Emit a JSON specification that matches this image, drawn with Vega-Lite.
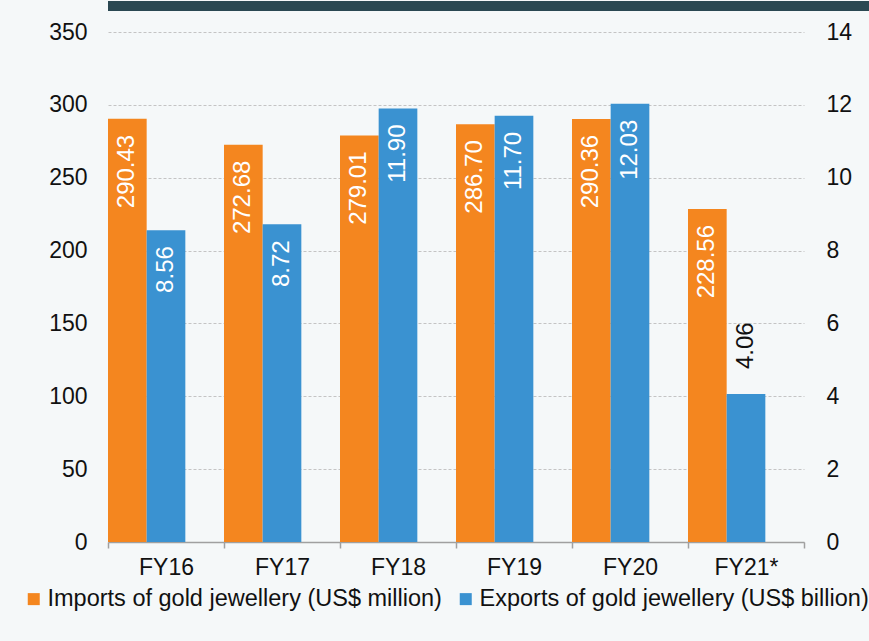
{
  "$schema": "https://vega.github.io/schema/vega-lite/v6.json",
  "padding": {"left": 0, "top": 0, "right": 0, "bottom": 30},
  "background": "#f5f8f9",
  "align": "none",
  "config": {
    "font": "Liberation Sans",
    "view": {"stroke": null},
    "concat": {"spacing": 10},
    "axis": {"labelFont": "Liberation Sans", "labelFontSize": 23, "labelColor": "#111111", "title": null}
  },
  "datasets": {
    "fy": [
      {"year": "FY16", "series": "Imports of gold jewellery (US$ million)", "value": 290.43},
      {"year": "FY17", "series": "Imports of gold jewellery (US$ million)", "value": 272.68},
      {"year": "FY18", "series": "Imports of gold jewellery (US$ million)", "value": 279.01},
      {"year": "FY19", "series": "Imports of gold jewellery (US$ million)", "value": 286.70},
      {"year": "FY20", "series": "Imports of gold jewellery (US$ million)", "value": 290.36},
      {"year": "FY21*", "series": "Imports of gold jewellery (US$ million)", "value": 228.56},
      {"year": "FY16", "series": "Exports of gold jewellery (US$ billion)", "value": 8.56},
      {"year": "FY17", "series": "Exports of gold jewellery (US$ billion)", "value": 8.72},
      {"year": "FY18", "series": "Exports of gold jewellery (US$ billion)", "value": 11.90},
      {"year": "FY19", "series": "Exports of gold jewellery (US$ billion)", "value": 11.70},
      {"year": "FY20", "series": "Exports of gold jewellery (US$ billion)", "value": 12.03},
      {"year": "FY21*", "series": "Exports of gold jewellery (US$ billion)", "value": 4.06}
    ]
  },
  "vconcat": [
    {
      "width": 869,
      "height": 10,
      "view": {"fill": "#2a4852", "stroke": null},
      "data": {"values": [{}]},
      "mark": {"type": "text", "text": ""},
      "encoding": {}
    },
    {
      "width": 696,
      "height": 510,
      "data": {"name": "fy"},
      "encoding": {
        "x": {
          "field": "year", "type": "nominal", "sort": null,
          "scale": {"paddingInner": 0, "paddingOuter": 0},
          "axis": {"labelAngle": 0, "labelPadding": 8, "domainColor": "#a0a0a0", "tickColor": "#a0a0a0", "tickSize": 6, "tickBand": "extent", "grid": false, "domainWidth": 1.5, "tickWidth": 1.5}
        },
        "xOffset": {
          "field": "series",
          "scale": {"domain": ["Imports of gold jewellery (US$ million)", "Exports of gold jewellery (US$ billion)", "gap"], "paddingInner": 0, "paddingOuter": 0}
        }
      },
      "layer": [
        {
          "transform": [{"filter": "datum.series == 'Imports of gold jewellery (US$ million)'"}],
          "encoding": {
            "y": {
              "field": "value", "type": "quantitative",
              "scale": {"domain": [0, 350], "nice": false},
              "axis": {"orient": "left", "values": [0, 50, 100, 150, 200, 250, 300, 350], "grid": true, "gridDash": [3, 2], "gridColor": "#c4c4c4", "domain": false, "ticks": false, "labelPadding": 21, "minExtent": 108}
            }
          },
          "layer": [
            {
              "mark": {"type": "bar"},
              "encoding": {
                "color": {
                  "field": "series", "type": "nominal",
                  "scale": {"domain": ["Imports of gold jewellery (US$ million)", "Exports of gold jewellery (US$ billion)"], "range": ["#f4861f", "#3a92d1"]},
                  "legend": {"title": null, "orient": "none", "legendX": -86, "legendY": 586, "direction": "horizontal", "symbolType": "square", "symbolSize": 144, "symbolStrokeWidth": 0, "labelFontSize": 23.5, "labelLimit": 0, "labelOffset": 2, "columnPadding": 12, "labelColor": "#111111", "labelFont": "Liberation Sans"}
                }
              }
            },
            {
              "mark": {"type": "text", "angle": 270, "align": "right", "baseline": "middle", "dx": -16, "color": "white", "fontSize": 24},
              "encoding": {"text": {"field": "value", "type": "quantitative", "format": ".2f"}}
            }
          ]
        },
        {
          "transform": [{"filter": "datum.series == 'Exports of gold jewellery (US$ billion)'"}],
          "encoding": {
            "y": {
              "field": "value", "type": "quantitative",
              "scale": {"domain": [0, 14], "nice": false},
              "axis": {"orient": "right", "values": [0, 2, 4, 6, 8, 10, 12, 14], "grid": false, "domain": false, "ticks": false, "labelPadding": 22}
            }
          },
          "layer": [
            {
              "mark": {"type": "bar"},
              "encoding": {"color": {"field": "series", "type": "nominal"}}
            },
            {
              "transform": [{"filter": "datum.year != 'FY21*'"}],
              "mark": {"type": "text", "angle": 270, "align": "right", "baseline": "middle", "dx": -16, "color": "white", "fontSize": 24},
              "encoding": {"text": {"field": "value", "type": "quantitative", "format": ".2f"}}
            },
            {
              "transform": [{"filter": "datum.year == 'FY21*'"}],
              "mark": {"type": "text", "angle": 270, "align": "left", "baseline": "middle", "dx": 25, "color": "#111111", "fontSize": 24},
              "encoding": {"text": {"field": "value", "type": "quantitative", "format": ".2f"}}
            }
          ]
        }
      ],
      "resolve": {"scale": {"y": "independent"}}
    }
  ]
}
